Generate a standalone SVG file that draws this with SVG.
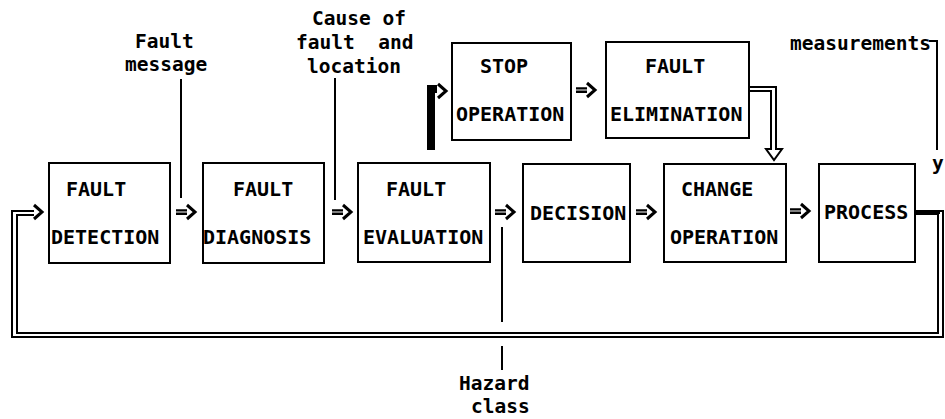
<svg xmlns="http://www.w3.org/2000/svg" xmlns:xlink="http://www.w3.org/1999/xlink" width="945" height="419" viewBox="0 0 945 419">
<style>
  .box { fill: #fff; stroke: #000; stroke-width: 2; }
  .t { font-family: "DejaVu Sans Mono", "Liberation Mono", monospace; font-weight: bold; font-size: 20px; fill: #000; white-space: pre; }
  .lc { font-size: 19.5px; }
  .ln { fill: none; stroke: #000; stroke-width: 2; }
  .eq { fill: none; stroke: #000; stroke-width: 2.4; }
  .chev { fill: none; stroke: #000; stroke-width: 3; stroke-linejoin: miter; }
</style>
<defs>
  <g id="arr">
    <path class="eq" d="M0,-1.6 H11 M0,1.8 H11"/>
    <path class="chev" d="M11,-7 L19,0 L11,7"/>
  </g>
</defs>
<rect width="945" height="419" fill="#fff"/>

<g id="connectors">
  <!-- between-box arrows -->
  <use xlink:href="#arr" href="#arr" x="176" y="212"/>
  <use xlink:href="#arr" href="#arr" x="332" y="212"/>
  <use xlink:href="#arr" href="#arr" x="495" y="212"/>
  <use xlink:href="#arr" href="#arr" x="636" y="212"/>
  <use xlink:href="#arr" href="#arr" x="790" y="211"/>
  <use xlink:href="#arr" href="#arr" x="576" y="90"/>
  <!-- feedback loop (double line) -->
  <path class="ln" d="M915,211 H943 V337 H12 V211 H34"/>
  <path class="ln" d="M915,214 H938 V333 H17 V215 H34"/>
  <path class="ln" style="stroke-width:3" d="M915,212.5 H940"/>
  <path class="chev" d="M34,205 L42,212 L34,219"/>
  <!-- evaluation to stop operation -->
  <path class="ln" style="stroke-width:4" d="M429,150 V87 H437"/>
  <path class="ln" style="stroke-width:4" d="M433,150 V91 H437"/>
  <path class="chev" d="M438,84 L446,91 L438,98"/>
  <!-- fault elimination to change operation (hollow double arrow) -->
  <path class="ln" d="M749,87 H776 V149 H782 L774,160 L766,149 H771 V91 H749"/>
  <!-- signal lines -->
  <path class="ln" d="M181,79 V198"/>
  <path class="ln" d="M335,78 V200"/>
  <path class="ln" d="M502,227 V322 M502,346 V370"/>
  <path class="ln" d="M929,41 H937 V150"/>
</g>

<g id="fault-detection">
  <rect class="box" x="49" y="163" width="121" height="100"/>
  <text class="t" x="66" y="196">FAULT</text>
  <text class="t" x="51" y="244">DETECTION</text>
</g>
<g id="fault-diagnosis">
  <rect class="box" x="203" y="163" width="121" height="100"/>
  <text class="t" x="233" y="196">FAULT</text>
  <text class="t" x="203" y="244">DIAGNOSIS</text>
</g>
<g id="fault-evaluation">
  <rect class="box" x="358" y="163" width="132" height="99"/>
  <text class="t" x="386" y="196">FAULT</text>
  <text class="t" x="363" y="244">EVALUATION</text>
</g>
<g id="decision">
  <rect class="box" x="523" y="164" width="107" height="98"/>
  <text class="t" x="530" y="220">DECISION</text>
</g>
<g id="change-operation">
  <rect class="box" x="664" y="164" width="122" height="98"/>
  <text class="t" x="681" y="196">CHANGE</text>
  <text class="t" x="670" y="244">OPERATION</text>
</g>
<g id="process">
  <rect class="box" x="819" y="164" width="96" height="98"/>
  <text class="t" x="824" y="219">PROCESS</text>
</g>
<g id="stop-operation">
  <rect class="box" x="452" y="43" width="119" height="97"/>
  <text class="t" x="480" y="73">STOP</text>
  <text class="t" x="456" y="121">OPERATION</text>
</g>
<g id="fault-elimination">
  <rect class="box" x="606" y="42" width="143" height="96"/>
  <text class="t" x="645" y="73">FAULT</text>
  <text class="t" x="610" y="121">ELIMINATION</text>
</g>

<g id="labels">
  <text class="t lc" x="135" y="48">Fault</text>
  <text class="t lc" x="125" y="71">message</text>
  <text class="t lc" x="312" y="25">Cause of</text>
  <text class="t lc" x="296" y="49">fault  and</text>
  <text class="t lc" x="307" y="73">location</text>
  <text class="t lc" x="790" y="50">measurements</text>
  <text class="t lc" x="932" y="170">y</text>
  <text class="t lc" x="459" y="390">Hazard</text>
  <text class="t lc" x="471" y="413">class</text>
</g>
</svg>
